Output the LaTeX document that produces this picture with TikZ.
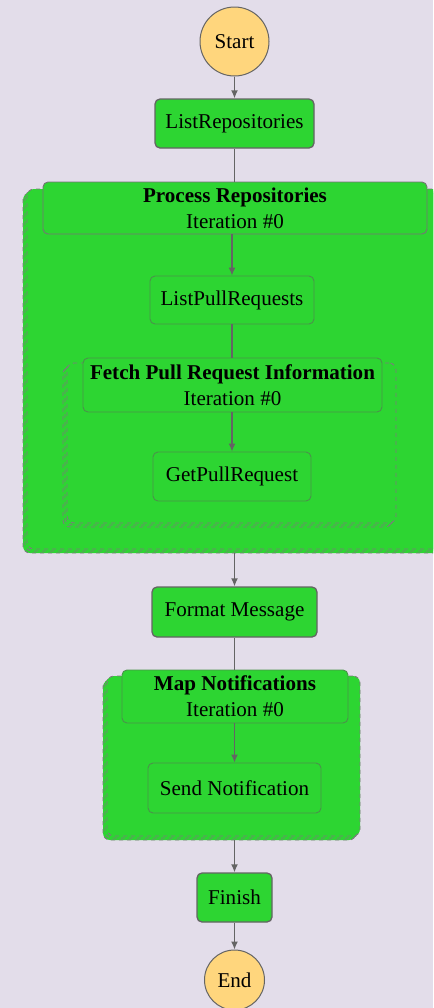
\documentclass[tikz,border=0pt]{standalone}
\usepackage{fontspec}
\usetikzlibrary{arrows.meta}
\setmainfont{Liberation Serif}
\definecolor{bgc}{RGB}{227,221,234}
\definecolor{sfgreen}{RGB}{45,213,50}
\definecolor{sfyellow}{RGB}{255,214,125}
\definecolor{sfline}{RGB}{100,100,100}
\definecolor{sfedge}{RGB}{75,145,75}
\newdimen\px \px=0.75pt
\begin{document}
\begin{tikzpicture}[>={Latex[length=6pt,width=5.2pt]}, x=\px, y=-\px,
  every node/.style={font=\fontsize{15.8}{19.5}\selectfont, text=black},
  task/.style={draw=sfline, line width=1.3\px, fill=sfgreen, rounded corners=5\px, inner sep=0pt},
  subtask/.style={task, draw=sfedge, line width=0.9\px},
  ends/.style={circle, draw=sfline, line width=1\px, fill=sfyellow, inner sep=0pt},
  maphead/.style={subtask, align=center},
  mapbody/.style={draw=sfline!85, dashed, line width=0.9\px, fill=sfgreen, rounded corners=7\px, inner sep=0pt},
  link/.style={draw=sfline, line width=1.3\px}]
\fill[bgc](0,0) rectangle (433,1008);
\clip(0,0) rectangle (433,1008);
% stacked map bodies
\foreach \s in {4,2,0}
  \node[mapbody, minimum width=420\px, minimum height=360\px] (procbody\s) at (237-\s,369+\s) {};
\node[maphead, draw=sfline!90, minimum width=384\px, minimum height=52\px] (prochead) at (235,208)
  {\textbf{Process Repositories}\\Iteration \#0};
\foreach \s in {4,2,0}
  \node[mapbody, minimum width=329\px, minimum height=160\px] (fetchbody\s) at (231.5-\s,443+\s) {};
\node[maphead, minimum width=299\px, minimum height=54\px] (fetchhead) at (232.5,385)
  {\textbf{Fetch Pull Request Information}\\Iteration \#0};
\foreach \s in {4,2,0}
  \node[mapbody, minimum width=253\px, minimum height=160\px] (mapbody\s) at (233.5-\s,756+\s) {};
\node[maphead, minimum width=226\px, minimum height=53\px] (maphead) at (235,696.5)
  {\textbf{Map Notifications}\\Iteration \#0};
% states
\node[ends, minimum size=69\px] (startstate) at (234.5,41.5) {Start};
\node[task, minimum width=159\px, minimum height=49\px] (listrepo) at (234.5,123.5) {ListRepositories};
\node[subtask, minimum width=164\px, minimum height=48\px] (listpr) at (232,300) {ListPullRequests};
\node[subtask, minimum width=158\px, minimum height=49\px] (getpr) at (232,476.5) {GetPullRequest};
\node[task, minimum width=165\px, minimum height=50\px] (fmtmsg) at (234.5,612) {Format Message};
\node[subtask, minimum width=173\px, minimum height=50\px] (sendnote) at (234.5,788) {Send Notification};
\node[task, minimum width=75\px, minimum height=49\px] (finish) at (234.5,897.5) {Finish};
\node[ends, minimum size=60\px] (endstate) at (234.5,980) {End};
% connectors
\draw[link,->](startstate)--(listrepo);
\draw[link](listrepo)--(listrepo |- prochead.north);
\draw[link,->](prochead.south -| listpr)--(listpr);
\draw[link](listpr)--(listpr |- fetchhead.north);
\draw[link,->](fetchhead.south -| getpr)--(getpr);
\draw[link,->](procbody4.south -| fmtmsg)--(fmtmsg);
\draw[link](fmtmsg)--(fmtmsg |- maphead.north);
\draw[link,->](maphead.south -| sendnote)--(sendnote);
\draw[link,->](mapbody4.south -| finish)--(finish);
\draw[link,->](finish)--(endstate);
\end{tikzpicture}
\end{document}
